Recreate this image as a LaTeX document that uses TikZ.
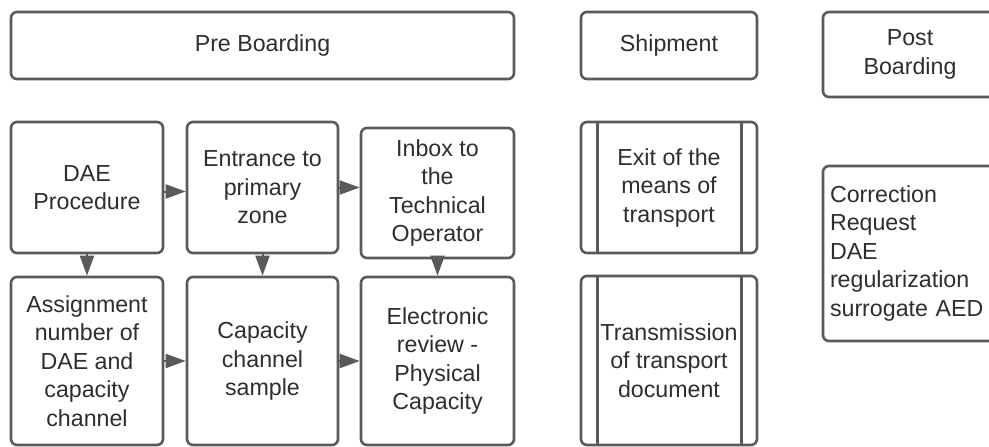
\documentclass[tikz,border=0pt]{standalone}
\usepackage{fontspec}
\setmainfont{Liberation Sans}
\usetikzlibrary{arrows.meta}
\definecolor{edge}{HTML}{5A5A5A}
\definecolor{ink}{HTML}{2E2E2E}
\tikzset{
  box/.style={draw=edge, line width=2.6pt, rounded corners=6pt, fill=white,
    text=ink, align=center, inner sep=2pt,
    font=\fontsize{23.2}{28.5}\selectfont},
  flow/.style={draw=edge, fill=edge, line width=2pt,
    -{Triangle[length=20pt,width=14pt]}},
  lane/.style={draw=edge, line width=2.6pt},
}
\begin{document}
\begin{tikzpicture}[x=1pt,y=-1pt]
\useasboundingbox (0,0) rectangle (989,447);
\clip (0,0) rectangle (989,447);

% phase headers
\node[box, minimum width=503pt, minimum height=67pt] (pre)  at (262.5,45.5) {Pre Boarding};
\node[box, minimum width=176pt, minimum height=67pt] (ship) at (669,45.5) {Shipment};
\node[box, minimum width=174pt, minimum height=85pt] (post) at (910,54.5) {Post\\Boarding};

% pre boarding steps
\node[box, minimum width=152pt, minimum height=131pt] (dae)   at (87,187.5)    {DAE\\Procedure};
\node[box, minimum width=151pt, minimum height=131pt] (ent)   at (262.5,187.5) {Entrance to\\primary\\zone};
\node[box, minimum width=153pt, minimum height=130pt] (inbox) at (437.5,193)   {Inbox to\\the\\Technical\\Operator};
\node[box, minimum width=152pt, minimum height=168pt] (asg)   at (87,361)      {Assignment\\number of\\DAE and\\capacity\\channel};
\node[box, minimum width=151pt, minimum height=168pt] (cap)   at (262.5,361)   {Capacity\\channel\\sample};
\node[box, minimum width=153pt, minimum height=168pt] (elec)  at (437.5,361)   {Electronic\\review -\\Physical\\Capacity};

% shipment steps (predefined process shape)
\node[box, minimum width=176pt, minimum height=131pt] (exit)  at (669,187.5) {Exit of the\\means of\\transport};
\node[box, minimum width=176pt, minimum height=169pt, inner sep=0pt] (trans) at (669,360.5) {Transmission\\of transport\\document};
\foreach \n in {exit,trans}{
  \draw[lane] ([xshift=18pt]\n.north west) -- ([xshift=18pt]\n.south west);
  \draw[lane] ([xshift=-17pt]\n.north east) -- ([xshift=-17pt]\n.south east);
}

% post boarding step
\node[box, minimum width=174pt, minimum height=175pt, text width=160pt, align=left] (corr) at (910,253.5)
  {Correction\\Request\\DAE\\regularization\\surrogate AED};

% flow connectors
\draw[flow] ([yshift=-4pt]dae.east) -- ([yshift=-4pt]ent.west);
\draw[flow] (ent.east) -- (ent.east -| inbox.west);
\draw[flow] (asg) -- (cap);
\draw[flow] (cap) -- (elec);
\draw[flow] (dae.south) -- (asg.north);
\draw[flow] (ent.south) -- (cap.north);
\draw[flow] (inbox.south) -- (elec.north);
\end{tikzpicture}
\end{document}
